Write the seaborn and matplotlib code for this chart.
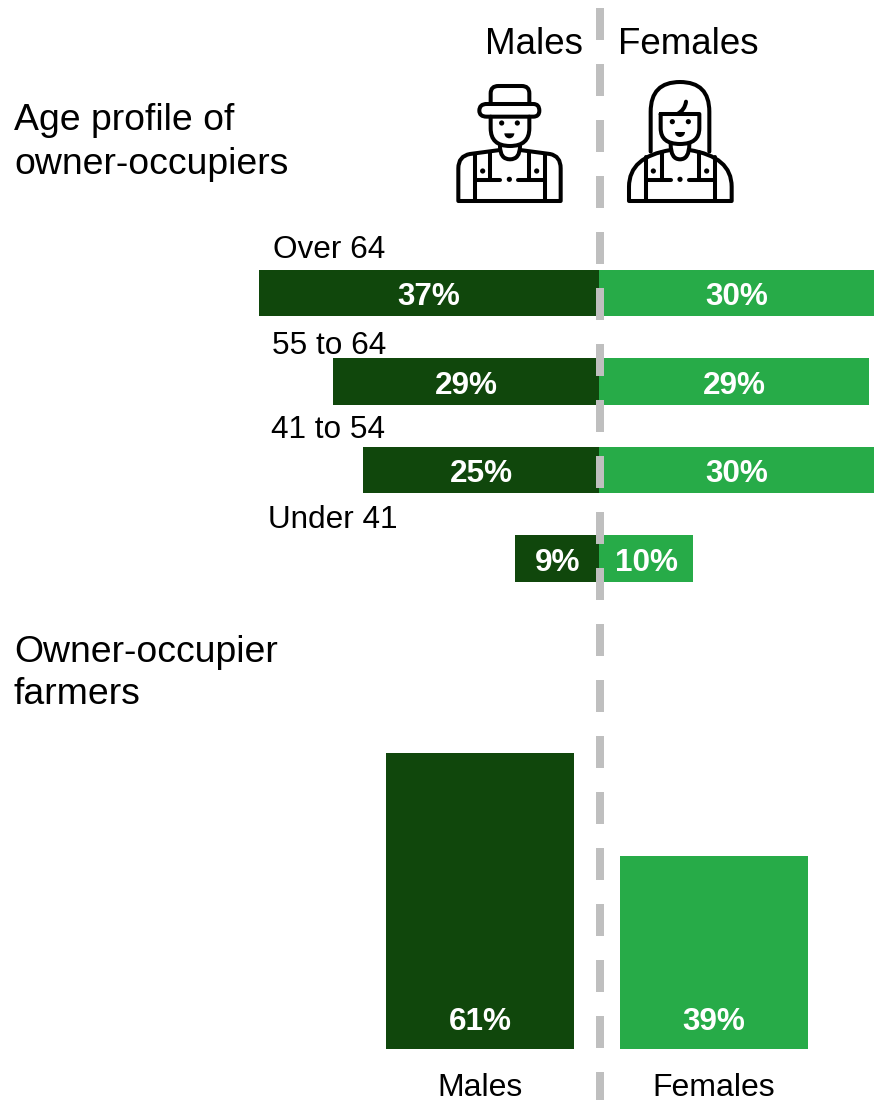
import matplotlib
matplotlib.use('Agg')
import matplotlib.pyplot as plt
import seaborn as sns
import pandas as pd
from matplotlib.path import Path
from matplotlib.patches import PathPatch, Circle, Wedge

# age profile
age_groups = ['Over 64', '55 to 64', '41 to 54', 'Under 41']
male_share = [37.1, 29.0, 25.7, 9.1]
female_share = [30.0, 29.5, 30.0, 10.3]
male_labels = ['37%', '29%', '25%', '9%']
female_labels = ['30%', '29%', '30%', '10%']

# owner occupier farmers
sexes = ['Males', 'Females']
farmer_share = [61.0, 39.8]
farmer_labels = ['61%', '39%']

DARK = '#10470c'
GREEN = '#27ab48'
GREY = '#bfbfbf'
W, H = 874, 1100

sns.set_style('white')
plt.rcParams['font.family'] = ['Liberation Sans', 'DejaVu Sans']
plt.rcParams['text.color'] = 'black'

fig = plt.figure(figsize=(W / 100, H / 100), dpi=100)


def px_axes(left, top, right, bottom):
    return fig.add_axes([left / W, 1 - bottom / H, (right - left) / W, (bottom - top) / H])


# diverging bars
ax1 = px_axes(0, 249, 874, 602.6)
age = pd.DataFrame({'group': age_groups, 'male': [-v for v in male_share], 'female': female_share})
sns.barplot(data=age, y='group', x='male', color=DARK, saturation=1, width=0.525, linewidth=0, ax=ax1)
sns.barplot(data=age, y='group', x='female', color=GREEN, saturation=1, width=0.525, linewidth=0, ax=ax1)
ax1.set_xlim(-65.3, 30)
ax1.set_axis_off()
for cont, labs in zip(ax1.containers, [male_labels, female_labels]):
    texts = ax1.bar_label(cont, labels=labs, label_type='center', color='white',
                          fontsize=22.7, fontweight='bold')
    for t in texts:
        t.xyann = (0, -3)

# farmers bars
ax2 = px_axes(363, 730, 831, 1049)
farmers = pd.DataFrame({'sex': sexes, 'share': farmer_share})
sns.barplot(data=farmers, x='sex', y='share', hue='sex', palette=[DARK, GREEN], saturation=1,
            width=0.803, linewidth=0, legend=False, ax=ax2)
ax2.set_ylim(0, 65.8)
ax2.set_xlabel('')
ax2.set_ylabel('')
ax2.set_yticks([])
ax2.tick_params(axis='x', length=0, labelsize=23, pad=17, colors='black')
sns.despine(ax=ax2, left=True, bottom=True)
ax2.patch.set_alpha(0)
for cont, lab in zip(ax2.containers, farmer_labels):
    bar = cont[0]
    ax2.annotate(lab, (bar.get_x() + bar.get_width() / 2, 0), xytext=(0, 9), textcoords='offset points',
                 ha='center', va='bottom', color='white', fontsize=22.7, fontweight='bold')

# overlay in pixel coords for the text, dashed line and icons
ov = fig.add_axes([0, 0, 1, 1], zorder=5)
ov.set_xlim(0, W)
ov.set_ylim(H, 0)
ov.set_axis_off()
ov.patch.set_alpha(0)

ov.plot([600, 600], [8, 1100], color=GREY, lw=5.76, linestyle=(0, (4, 3)), dash_capstyle='butt')

ov.text(534, 44, 'Males', ha='center', va='center', fontsize=26.5)
ov.text(688, 44, 'Females', ha='center', va='center', fontsize=26.5)
ov.text(14, 120, 'Age profile of', va='center', fontsize=26.9)
ov.text(14, 164, 'owner-occupiers', va='center', fontsize=26.9)
ov.text(14, 653, 'Owner-occupier', va='center', fontsize=26.9)
ov.text(14, 695, 'farmers', va='center', fontsize=26.9)
for name, x, y in zip(age_groups, [273, 272, 271, 268], [250, 346, 430, 520]):
    ov.text(x, y, name, va='center', fontsize=22.7)


# icons: coords below come from a 3x crop starting at x=440
def zx(x):
    return x / 3 + 440


def zy(y):
    return y / 3


def stroke(*segs):
    # first point is a move, 2 points after that is a curve, 1 is a line
    verts, codes = [], []
    for i, seg in enumerate(segs):
        if i == 0:
            verts.append(seg)
            codes.append(Path.MOVETO)
        elif len(seg) == 4:
            verts += [seg[:2], seg[2:]]
            codes += [Path.CURVE3, Path.CURVE3]
        else:
            verts.append(seg)
            codes.append(Path.LINETO)
    verts = [(zx(x), zy(y)) for x, y in verts]
    ov.add_patch(PathPatch(Path(verts, codes), fill=False, ec='black', lw=2.9,
                           capstyle='round', joinstyle='round'))


def dots(points, r):
    for x, y in points:
        ov.add_patch(Circle((zx(x), zy(y)), r, fc='black', ec='none'))


def smile(x, y):
    ov.add_patch(Wedge((zx(x), zy(y)), 5, 0, 180, fc='black', ec='none'))


# male
stroke((152, 312), (152, 280), (152, 258, 175, 258), (245, 258), (268, 258, 268, 280), (268, 312))
stroke((140, 312), (280, 312), (298, 312, 298, 332), (298, 350, 280, 350), (140, 350),
       (118, 350, 118, 332), (118, 312, 140, 312))
stroke((152, 350), (152, 385), (152, 438, 210, 438), (268, 438, 268, 385), (268, 350))
stroke((180, 438), (180, 478, 210, 478), (240, 478, 240, 438))
stroke((180, 450), (90, 462), (55, 468, 55, 505), (55, 603), (362, 603), (362, 505),
       (362, 468, 330, 462), (240, 450))
stroke((105, 462), (105, 603))
stroke((150, 455), (150, 540))
stroke((268, 455), (268, 540))
stroke((315, 462), (315, 603))
stroke((105, 540), (180, 540))
stroke((235, 540), (315, 540))
dots([(128, 513), (290, 513), (208, 538), (185, 369), (232, 369)], 2.6)
smile(208, 400)

# female
stroke((632, 455), (632, 335), (632, 246, 720, 246), (808, 246, 808, 335), (808, 455))
stroke((662, 342), (778, 342), (778, 385), (778, 432, 720, 432), (662, 432, 662, 385), (662, 342))
stroke((712, 342), (735, 330, 738, 305))
stroke((692, 432), (692, 478, 720, 478), (748, 478, 748, 432))
stroke((692, 450), (567, 470, 567, 560), (567, 603), (875, 603), (875, 560), (875, 470, 748, 450))
stroke((618, 470), (618, 603))
stroke((665, 455), (665, 540))
stroke((778, 455), (778, 540))
stroke((825, 470), (825, 603))
stroke((618, 540), (692, 540))
stroke((748, 540), (825, 540))
dots([(640, 513), (800, 513), (720, 538), (697, 365), (745, 365)], 2.6)
smile(720, 396)

fig.savefig('out.png', dpi=100)
